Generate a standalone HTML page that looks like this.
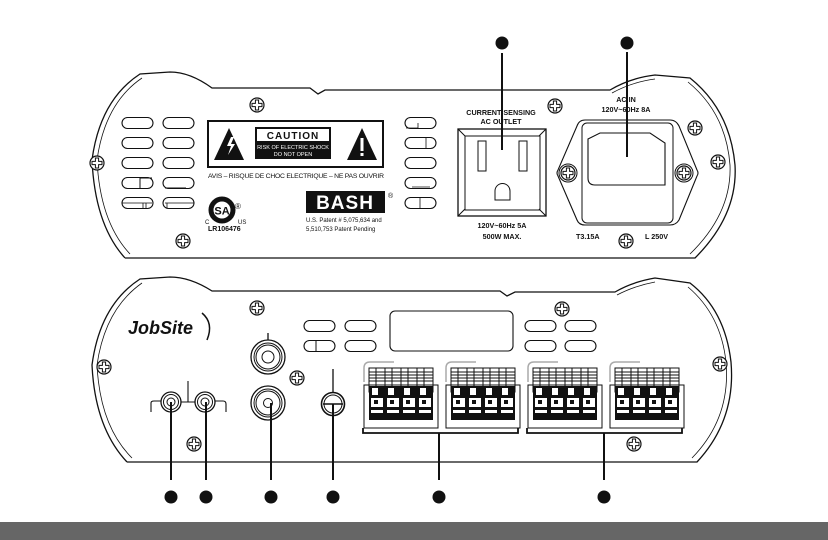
<!DOCTYPE html>
<html><head><meta charset="utf-8"><style>
html,body{margin:0;padding:0;background:#fff;width:828px;height:540px;overflow:hidden}
svg{display:block}
text{font-family:"Liberation Sans",sans-serif;fill:#111}
</style></head><body>
<svg width="828" height="540" viewBox="0 0 828 540" xmlns="http://www.w3.org/2000/svg">
<defs>
<g id="scr"><circle r="7" fill="#fff" stroke="#111" stroke-width="1.2"/><path d="M-1.6,-5 h3.2 v3.4 h3.4 v3.2 h-3.4 v3.4 h-3.2 v-3.4 h-3.4 v-3.2 h3.4z" fill="none" stroke="#111" stroke-width="1"/></g>
<rect id="vent" x="0" y="-5.5" width="31" height="11" rx="5.5" fill="none" stroke="#111" stroke-width="1.1"/>
<g id="blk" fill="none" stroke="#111">
<path d="M0,22 v-14 q0,-6 6,-6 h24" stroke="#aaa" stroke-width="1.5"/>
<rect x="5" y="8" width="64" height="24" stroke-width="1"/>
<path d="M5,12 h64 M5,15 h64 M5,18 h64 M5,21 h64 M21,8 v24 M37,8 v24 M53,8 v24 M12,8v24 M28,8v24 M44,8v24 M60,8v24" stroke-width="1"/>
<rect x="0" y="25" width="74" height="43" stroke-width="1"/>
<rect x="5" y="26" width="64" height="34" fill="#111" stroke="none"/>
<g fill="#fff" stroke="none"><rect x="7" y="38" width="12" height="9"/><rect x="23" y="38" width="12" height="9"/><rect x="39" y="38" width="12" height="9"/><rect x="55" y="38" width="12" height="9"/>
<rect x="7" y="50" width="12" height="3"/><rect x="23" y="50" width="12" height="3"/><rect x="39" y="50" width="12" height="3"/><rect x="55" y="50" width="12" height="3"/></g>
<g fill="#111" stroke="none"><rect x="10" y="40" width="4" height="4"/><rect x="26" y="40" width="4" height="4"/><rect x="42" y="40" width="4" height="4"/><rect x="58" y="40" width="4" height="4"/>
<rect x="8" y="28" width="6" height="7" fill="#fff"/><rect x="24" y="28" width="6" height="7" fill="#fff"/><rect x="40" y="28" width="6" height="7" fill="#fff"/><rect x="56" y="28" width="6" height="7" fill="#fff"/></g>
</g>
</defs>

<!-- TOP PANEL -->
<g fill="none" stroke="#111" stroke-width="1.3">
<path d="M125,258 L695,258 Q738,215 735,165 Q730,110 690,78 L655,75 Q630,78 610,90 L325,90 L318,94 L310,88 L212,88 Q190,72 170,72 L140,74 Q100,100 92,160 Q95,225 125,258"/>
<path d="M130,254 Q100,222 97,160 Q105,103 142,78" stroke-width="0.8"/>
<path d="M690,254 Q732,213 730,165 Q726,113 688,82" stroke-width="0.8"/>
<path d="M612,93 Q632,82 655,79" stroke-width="0.8"/>
</g>
<use href="#vent" x="122" y="123"/><use href="#vent" x="163" y="123"/>
<use href="#vent" x="122" y="143"/><use href="#vent" x="163" y="143"/>
<use href="#vent" x="122" y="163"/><use href="#vent" x="163" y="163"/>
<use href="#vent" x="122" y="183"/><use href="#vent" x="163" y="183"/>
<use href="#vent" x="122" y="203"/><use href="#vent" x="163" y="203"/>
<path d="M140,188 V178 H152 M165,188 H186" fill="none" stroke="#111" stroke-width="1"/>
<path d="M122,203 H152 M143,203 V208 M146,203 V208 M165,203 H194 M167,203 V208" fill="none" stroke="#111" stroke-width="0.8"/>
<use href="#vent" x="405" y="123"/><use href="#vent" x="405" y="143"/><use href="#vent" x="405" y="163"/><use href="#vent" x="405" y="183"/><use href="#vent" x="405" y="203"/>
<path d="M406,128 H418 V123 M426,138 V148 M412,187 H430 M420,198 V208" fill="none" stroke="#111" stroke-width="0.8"/>
<use href="#scr" x="257" y="105"/><use href="#scr" x="97" y="163"/><use href="#scr" x="183" y="241"/>
<use href="#scr" x="555" y="106"/><use href="#scr" x="695" y="128"/><use href="#scr" x="718" y="162"/><use href="#scr" x="626" y="241"/>

<!-- caution -->
<rect x="208" y="121" width="175" height="46" fill="#fff" stroke="#111" stroke-width="2"/>
<path d="M214,160 L229,128 L244,160Z" fill="#111"/>
<path d="M231,137 l-4,9 h4 l-3,9 l7,-11 h-4 l3,-7z" fill="#fff"/>
<path d="M347,160 L362,128 L377,160Z" fill="#111"/>
<rect x="360.5" y="138" width="3" height="13" fill="#fff"/><rect x="360.5" y="153" width="3" height="3" fill="#fff"/>
<rect x="255" y="127" width="76" height="32" fill="#111"/>
<rect x="257" y="129" width="72" height="12" fill="#fff"/>
<text x="293" y="139" font-size="10" font-weight="bold" text-anchor="middle" letter-spacing="1">CAUTION</text>
<text x="293" y="149" font-size="5.5" text-anchor="middle" style="fill:#fff">RISK OF ELECTRIC SHOCK</text>
<text x="293" y="156" font-size="5.5" text-anchor="middle" style="fill:#fff">DO NOT OPEN</text>
<text x="208" y="178" font-size="6.8" textLength="176">AVIS – RISQUE DE CHOC ELECTRIQUE – NE PAS OUVRIR</text>
<!-- CSA -->
<circle cx="222" cy="210" r="11" fill="none" stroke="#111" stroke-width="5"/>
<text x="222" y="214.5" font-size="11" font-weight="bold" text-anchor="middle">SA</text>
<text x="235" y="209" font-size="8">®</text>
<text x="205" y="224" font-size="6">C</text><text x="238" y="224" font-size="6">US</text>
<text x="208" y="231" font-size="7" font-weight="bold">LR106476</text>
<!-- BASH -->
<rect x="306" y="191" width="79" height="22" fill="#111"/>
<text x="345" y="209" font-size="19" font-weight="bold" text-anchor="middle" style="fill:#fff" letter-spacing="1">BASH</text>
<text x="388" y="198" font-size="7">®</text>
<text x="306" y="222" font-size="6">U.S. Patent # 5,075,634 and</text>
<text x="306" y="231" font-size="6">5,510,753  Patent Pending</text>
<!-- outlet -->
<text x="501" y="115" font-size="7.2" font-weight="bold" text-anchor="middle">CURRENT SENSING</text>
<text x="501" y="124" font-size="7.2" font-weight="bold" text-anchor="middle">AC OUTLET</text>
<rect x="458" y="129" width="88" height="87" fill="none" stroke="#111" stroke-width="1.3"/>
<rect x="465" y="136" width="75" height="74" fill="none" stroke="#111" stroke-width="1"/>
<path d="M458,129 L465,136 M546,129 L539,136 M458,216 L465,209 M546,216 L539,209" stroke="#111"/>
<rect x="478" y="141" width="8" height="30" fill="none" stroke="#111"/>
<rect x="519" y="141" width="8" height="30" fill="none" stroke="#111"/>
<path d="M495,200 v-9 a7.5,7.5 0 0 1 15,0 v9z" fill="none" stroke="#111"/>
<text x="502" y="228" font-size="7.2" font-weight="bold" text-anchor="middle">120V~60Hz 5A</text>
<text x="502" y="239" font-size="7.2" font-weight="bold" text-anchor="middle">500W MAX.</text>
<!-- AC IN -->
<text x="626" y="102" font-size="7.2" font-weight="bold" text-anchor="middle">AC IN</text>
<text x="626" y="112" font-size="7.2" font-weight="bold" text-anchor="middle">120V~60Hz 8A</text>
<path d="M585,120 H670 Q676,120 679,126 L697,170 Q699,173 697,176 L679,220 Q676,225 670,225 H585 Q579,225 577,220 L558,176 Q556,173 558,170 L577,126 Q579,120 585,120Z" fill="none" stroke="#111" stroke-width="1.1"/>
<rect x="582" y="123" width="91" height="100" rx="5" fill="none" stroke="#111"/>
<path d="M588,139 L600,133 H650 L665,143 V185 H595 Q588,185 588,178Z" fill="none" stroke="#111" stroke-width="1.1"/>
<circle cx="568" cy="173" r="9" fill="none" stroke="#111"/><use href="#scr" x="568" y="173"/>
<circle cx="684" cy="173" r="9" fill="none" stroke="#111"/><use href="#scr" x="684" y="173"/>
<text x="576" y="239" font-size="7.2" font-weight="bold">T3.15A</text>
<text x="645" y="239" font-size="7.2" font-weight="bold">L 250V</text>
<!-- top callouts -->
<circle cx="502" cy="43" r="6.5" fill="#111"/><line x1="502" y1="53" x2="502" y2="150" stroke="#111" stroke-width="2"/>
<circle cx="627" cy="43" r="6.5" fill="#111"/><line x1="627" y1="52" x2="627" y2="157" stroke="#111" stroke-width="2"/>

<!-- BOTTOM PANEL -->
<g fill="none" stroke="#111" stroke-width="1.3">
<path d="M127,462 L697,462 Q736,420 731,362 Q725,310 690,283 L655,278 Q632,282 615,292 L515,292 L507,296 L500,291 L212,291 Q190,277 170,277 L140,279 Q100,305 92,365 Q95,428 127,462"/>
<path d="M132,458 Q100,426 97,365 Q105,309 142,283" stroke-width="0.8"/>
<path d="M692,458 Q731,418 726,362 Q721,315 688,287" stroke-width="0.8"/>
<path d="M617,295 Q634,286 655,282" stroke-width="0.8"/>
</g>
<text x="128" y="334" font-size="18" font-weight="bold" font-style="italic" font-family="Liberation Serif">JobSite</text>
<path d="M202,313 Q214,323 207,340" fill="none" stroke="#111" stroke-width="1.5"/>
<use href="#scr" x="257" y="308"/><use href="#scr" x="104" y="367"/><use href="#scr" x="297" y="378"/><use href="#scr" x="194" y="444"/>
<use href="#scr" x="562" y="309"/><use href="#scr" x="720" y="364"/><use href="#scr" x="634" y="444"/>
<use href="#vent" x="304" y="326"/><use href="#vent" x="345" y="326"/><use href="#vent" x="304" y="346"/><use href="#vent" x="345" y="346"/>
<line x1="316" y1="341" x2="316" y2="351" stroke="#111"/>
<use href="#vent" x="525" y="326"/><use href="#vent" x="565" y="326"/><use href="#vent" x="525" y="346"/><use href="#vent" x="565" y="346"/>
<rect x="390" y="311" width="123" height="40" rx="5" fill="none" stroke="#111" stroke-width="1.1"/>
<!-- RCA -->
<g fill="none" stroke="#111">
<circle cx="171" cy="402" r="10" stroke-width="1.3"/><circle cx="171" cy="402" r="7.5"/><circle cx="171" cy="402" r="4"/>
<circle cx="205" cy="402" r="10" stroke-width="1.3"/><circle cx="205" cy="402" r="7.5"/><circle cx="205" cy="402" r="4"/>
<path d="M151,412 V403 Q151,401 154,401 H161 M181,402 H195 M188,381 V402 M215,401 H223 Q226,401 226,404 V412" stroke-width="1.1"/>
<circle cx="268" cy="357" r="17" stroke-width="1.3"/><circle cx="268" cy="357" r="14"/><circle cx="268" cy="357" r="12"/><circle cx="268" cy="357" r="6"/>
<circle cx="268" cy="403" r="17" stroke-width="1.3"/><circle cx="268" cy="403" r="14"/><circle cx="268" cy="403" r="12"/><circle cx="268" cy="403" r="4.5"/>
<line x1="268" y1="333" x2="268" y2="340" stroke-width="1.3"/>
<circle cx="333" cy="404" r="11.5" stroke-width="1.6"/><circle cx="333" cy="404" r="9"/>
<line x1="323" y1="404" x2="343" y2="404" stroke-width="1.5"/>
<line x1="333" y1="369" x2="333" y2="392" stroke-width="1.3"/>
</g>
<use href="#blk" x="364" y="360"/><use href="#blk" x="446" y="360"/><use href="#blk" x="528" y="360"/><use href="#blk" x="610" y="360"/>
<path d="M363,428 V433 H518 V428 M527,428 V433 H682 V428" fill="none" stroke="#111" stroke-width="1.8"/>
<!-- bottom callouts -->
<g stroke="#111" stroke-width="2">
<line x1="171" y1="402" x2="171" y2="480"/><line x1="206" y1="402" x2="206" y2="480"/>
<line x1="271" y1="403" x2="271" y2="480"/><line x1="333" y1="404" x2="333" y2="480"/>
<line x1="439" y1="433" x2="439" y2="480"/><line x1="604" y1="433" x2="604" y2="480"/>
</g>
<g fill="#111">
<circle cx="171" cy="497" r="6.5"/><circle cx="206" cy="497" r="6.5"/><circle cx="271" cy="497" r="6.5"/>
<circle cx="333" cy="497" r="6.5"/><circle cx="439" cy="497" r="6.5"/><circle cx="604" cy="497" r="6.5"/>
</g>
<rect x="0" y="522" width="828" height="18" fill="#666"/>
</svg>
</body></html>
